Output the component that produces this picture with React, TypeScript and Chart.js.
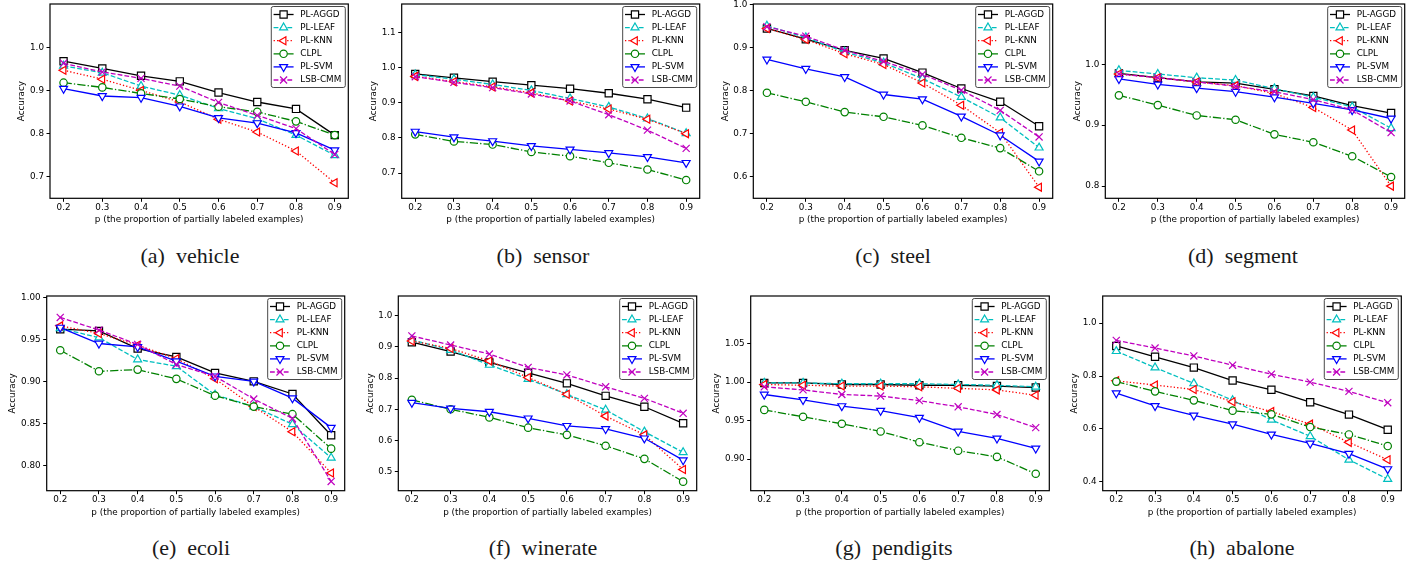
import React, { useEffect, useRef } from 'react';
import { Chart, registerables } from 'chart.js';
import { drawPoint } from 'chart.js/helpers';

Chart.register(...registerables);

// ---------- data ----------
const pValues = [0.2, 0.3, 0.4, 0.5, 0.6, 0.7, 0.8, 0.9];
const methods = ['PL-AGGD', 'PL-LEAF', 'PL-KNN', 'CLPL', 'PL-SVM', 'LSB-CMM'];

// order of rows follows `methods`
const vehicleAcc = [
  [0.968, 0.951, 0.934, 0.921, 0.895, 0.873, 0.857, 0.796],
  [0.957, 0.941, 0.910, 0.889, 0.858, 0.834, 0.796, 0.749],
  [0.947, 0.926, 0.900, 0.873, 0.833, 0.803, 0.759, 0.685],
  [0.918, 0.907, 0.893, 0.880, 0.862, 0.850, 0.828, 0.796],
  [0.904, 0.887, 0.883, 0.863, 0.836, 0.824, 0.801, 0.761],
  [0.963, 0.943, 0.928, 0.910, 0.872, 0.842, 0.811, 0.751],
];
const sensorAcc = [
  [0.982, 0.971, 0.960, 0.950, 0.940, 0.927, 0.910, 0.886],
  [0.980, 0.967, 0.952, 0.935, 0.912, 0.888, 0.855, 0.813],
  [0.975, 0.960, 0.945, 0.928, 0.905, 0.882, 0.853, 0.812],
  [0.810, 0.790, 0.781, 0.760, 0.748, 0.729, 0.710, 0.680],
  [0.818, 0.802, 0.791, 0.777, 0.767, 0.757, 0.746, 0.729],
  [0.974, 0.958, 0.943, 0.925, 0.905, 0.866, 0.822, 0.770],
];
const steelAcc = [
  [0.945, 0.920, 0.894, 0.875, 0.842, 0.805, 0.774, 0.717],
  [0.951, 0.924, 0.890, 0.865, 0.828, 0.785, 0.737, 0.667],
  [0.945, 0.919, 0.886, 0.861, 0.818, 0.766, 0.702, 0.575],
  [0.795, 0.774, 0.750, 0.739, 0.719, 0.690, 0.666, 0.612],
  [0.873, 0.851, 0.832, 0.791, 0.780, 0.740, 0.696, 0.635],
  [0.949, 0.927, 0.894, 0.868, 0.838, 0.801, 0.754, 0.692],
];
const segmentAcc = [
  [0.985, 0.978, 0.971, 0.969, 0.959, 0.948, 0.932, 0.920],
  [0.990, 0.984, 0.978, 0.974, 0.960, 0.946, 0.930, 0.895],
  [0.984, 0.978, 0.971, 0.965, 0.952, 0.929, 0.892, 0.800],
  [0.949, 0.933, 0.916, 0.909, 0.885, 0.872, 0.849, 0.815],
  [0.976, 0.967, 0.961, 0.955, 0.946, 0.936, 0.925, 0.911],
  [0.984, 0.978, 0.971, 0.964, 0.955, 0.942, 0.925, 0.888],
];
const ecoliAcc = [
  [0.962, 0.960, 0.939, 0.929, 0.910, 0.900, 0.885, 0.836],
  [0.963, 0.952, 0.926, 0.918, 0.884, 0.870, 0.849, 0.809],
  [0.966, 0.957, 0.943, 0.927, 0.903, 0.870, 0.840, 0.791],
  [0.937, 0.912, 0.914, 0.903, 0.883, 0.870, 0.861, 0.820],
  [0.964, 0.945, 0.941, 0.924, 0.906, 0.900, 0.880, 0.845],
  [0.976, 0.961, 0.944, 0.920, 0.906, 0.879, 0.856, 0.781],
];
const winerateAcc = [
  [0.915, 0.885, 0.850, 0.817, 0.783, 0.743, 0.708, 0.655],
  [0.922, 0.890, 0.842, 0.797, 0.748, 0.698, 0.628, 0.562],
  [0.919, 0.895, 0.855, 0.802, 0.748, 0.678, 0.618, 0.507],
  [0.730, 0.700, 0.674, 0.641, 0.618, 0.583, 0.541, 0.468],
  [0.721, 0.703, 0.692, 0.671, 0.647, 0.637, 0.607, 0.537],
  [0.935, 0.906, 0.877, 0.834, 0.810, 0.772, 0.735, 0.687],
];
const pendigitsAcc = [
  [0.999, 0.999, 0.997, 0.997, 0.996, 0.996, 0.995, 0.993],
  [0.999, 0.999, 0.998, 0.998, 0.998, 0.997, 0.996, 0.994],
  [0.997, 0.996, 0.995, 0.995, 0.994, 0.992, 0.990, 0.983],
  [0.964, 0.955, 0.946, 0.936, 0.922, 0.911, 0.903, 0.881],
  [0.984, 0.977, 0.969, 0.963, 0.954, 0.936, 0.927, 0.914],
  [0.994, 0.990, 0.984, 0.982, 0.976, 0.968, 0.958, 0.941],
];
const abaloneAcc = [
  [0.914, 0.873, 0.832, 0.783, 0.748, 0.701, 0.654, 0.597],
  [0.894, 0.832, 0.772, 0.708, 0.634, 0.572, 0.483, 0.410],
  [0.782, 0.766, 0.749, 0.703, 0.666, 0.618, 0.549, 0.483],
  [0.779, 0.742, 0.708, 0.669, 0.655, 0.607, 0.579, 0.535],
  [0.735, 0.687, 0.651, 0.618, 0.579, 0.545, 0.506, 0.448],
  [0.935, 0.906, 0.876, 0.841, 0.807, 0.777, 0.742, 0.699],
];

const vehicleTicks = [0.7, 0.8, 0.9, 1.0];
const sensorTicks = [0.7, 0.8, 0.9, 1.0, 1.1];
const steelTicks = [0.6, 0.7, 0.8, 0.9, 1.0];
const segmentTicks = [0.8, 0.9, 1.0];
const ecoliTicks = [0.8, 0.85, 0.9, 0.95, 1.0];
const winerateTicks = [0.5, 0.6, 0.7, 0.8, 0.9, 1.0];
const pendigitsTicks = [0.9, 0.95, 1.0, 1.05];
const abaloneTicks = [0.4, 0.6, 0.8, 1.0];

const xLabel = 'p (the proportion of partially labeled examples)';
const yLabel = 'Accuracy';

// ---------- styles ----------
const FONT = '"DejaVu Sans"';
const FS = 8.8;
const seriesStyles = [
  { color: '#000000', dash: [], style: 'rect', rot: 0, r: 5.1 },
  { color: '#00bfbf', dash: [4.8, 2.1], style: 'triangle', rot: 0, r: 4.6 },
  { color: '#ff0000', dash: [1.3, 2.1], style: 'triangle', rot: 270, r: 4.6 },
  { color: '#008000', dash: [8.3, 2.1, 1.3, 2.1], style: 'circle', rot: 0, r: 3.7 },
  { color: '#0000ff', dash: [], style: 'triangle', rot: 180, r: 4.6 },
  { color: '#bf00bf', dash: [4.8, 2.1], style: 'crossRot', rot: 0, r: 5 },
];

const panels = [
  { cap: '(a)', name: 'vehicle', values: vehicleAcc, ticks: vehicleTicks, dec: 1, yMin: 0.649, yMax: 1.101, box: { l: 50, t: 4, r: 348.3, b: 198.3 }, titleX: 21.7, capX: 190, capY: 255.5 },
  { cap: '(b)', name: 'sensor', values: sensorAcc, ticks: sensorTicks, dec: 1, yMin: 0.628, yMax: 1.181, box: { l: 401.7, t: 4, r: 700, b: 198.3 }, titleX: 373.3, capX: 543, capY: 255.5 },
  { cap: '(c)', name: 'steel', values: steelAcc, ticks: steelTicks, dec: 1, yMin: 0.549, yMax: 1.002, box: { l: 753.3, t: 4, r: 1052.7, b: 198.3 }, titleX: 725, capX: 893, capY: 255.5 },
  { cap: '(d)', name: 'segment', values: segmentAcc, ticks: segmentTicks, dec: 1, yMin: 0.78, yMax: 1.099, box: { l: 1105.3, t: 4, r: 1404.7, b: 198.3 }, titleX: 1077, capX: 1243, capY: 255.5 },
  { cap: '(e)', name: 'ecoli', values: ecoliAcc, ticks: ecoliTicks, dec: 2, yMin: 0.77, yMax: 1.0015, box: { l: 46.7, t: 296, r: 345, b: 490.7 }, titleX: 12.7, capX: 191, capY: 548 },
  { cap: '(f)', name: 'winerate', values: winerateAcc, ticks: winerateTicks, dec: 1, yMin: 0.439, yMax: 1.063, box: { l: 398.3, t: 296, r: 696.7, b: 490.7 }, titleX: 370, capX: 543, capY: 548 },
  { cap: '(g)', name: 'pendigits', values: pendigitsAcc, ticks: pendigitsTicks, dec: 2, yMin: 0.859, yMax: 1.112, box: { l: 750.7, t: 296, r: 1049.3, b: 490.7 }, titleX: 716.7, capX: 894, capY: 548 },
  { cap: '(h)', name: 'abalone', values: abaloneAcc, ticks: abaloneTicks, dec: 1, yMin: 0.366, yMax: 1.103, box: { l: 1102.7, t: 296, r: 1401.3, b: 490.7 }, titleX: 1074.7, capX: 1242, capY: 548 },
];

// frame + matplotlib-like legend
const mplDecor = {
  id: 'mplDecor',
  afterDatasetsDraw(chart: any) {
    const { ctx, chartArea: ca } = chart;
    ctx.save();
    ctx.setLineDash([]);
    ctx.strokeStyle = '#000';
    ctx.lineWidth = 1.2;
    ctx.strokeRect(ca.left, ca.top, ca.right - ca.left, ca.bottom - ca.top);

    ctx.font = `${FS}px ${FONT}`;
    const ds = chart.data.datasets;
    const maxW = Math.max(...ds.map((d: any) => ctx.measureText(d.label).width));
    const w = 29 + maxW + 4;
    const rowH = 13.1;
    const h = 8 + rowH * (ds.length - 1) + 7.5;
    const x0 = ca.right - 3 - w;
    const y0 = ca.top + 2.5;
    ctx.beginPath();
    if (ctx.roundRect) ctx.roundRect(x0, y0, w, h, 2);
    else ctx.rect(x0, y0, w, h);
    ctx.fillStyle = 'rgba(255,255,255,0.85)';
    ctx.fill();
    ctx.strokeStyle = '#333';
    ctx.lineWidth = 0.9;
    ctx.stroke();

    ds.forEach((d: any, i: number) => {
      const y = y0 + 8 + i * rowH;
      ctx.strokeStyle = d.borderColor;
      ctx.lineWidth = 1.3;
      ctx.setLineDash(d.borderDash || []);
      ctx.beginPath();
      ctx.moveTo(x0 + 2.3, y);
      ctx.lineTo(x0 + 22.3, y);
      ctx.stroke();
      ctx.setLineDash([]);
      ctx.fillStyle = '#fff';
      ctx.strokeStyle = d.borderColor;
      ctx.lineWidth = 1.2;
      drawPoint(ctx, { pointStyle: d.pointStyle, rotation: d.pointRotation, radius: d.pointRadius, borderWidth: 1.2 }, x0 + 12.3, y);
      ctx.fillStyle = '#000';
      ctx.textBaseline = 'middle';
      ctx.textAlign = 'left';
      ctx.fillText(d.label, x0 + 29, y);
    });
    ctx.restore();
  },
};

function Panel({ p }: { p: any }) {
  const ref = useRef<HTMLCanvasElement>(null);
  const cx = Math.round(p.titleX - 5.3);
  const ct = Math.round(p.box.t) - 10;
  const W = Math.ceil(p.box.r - cx + 6);
  const H = Math.ceil(p.box.b - ct + 28);

  useEffect(() => {
    const font = { family: FONT, size: FS };
    const datasets = methods.map((m, si) => {
      const s = seriesStyles[si];
      return {
        label: m,
        data: pValues.map((x, i) => ({ x, y: p.values[si][i] })),
        borderColor: s.color,
        backgroundColor: '#fff',
        borderWidth: 1.3,
        borderDash: s.dash,
        pointStyle: s.style,
        pointRotation: s.rot,
        pointRadius: s.r,
        pointHoverRadius: s.r,
        pointBorderWidth: 1.2,
        pointBackgroundColor: '#fff',
        pointBorderColor: s.color,
        tension: 0,
        fill: false,
        order: -si,
        clip: false as any,
      };
    });
    const chart = new Chart(ref.current as HTMLCanvasElement, {
      type: 'line',
      data: { datasets },
      options: {
        animation: false,
        responsive: false,
        devicePixelRatio: 1,
        events: [],
        layout: {
          padding: {
            left: 0,
            top: p.box.t - ct,
            right: W - (p.box.r - cx),
            bottom: H - (p.box.b - ct) - 28,
          },
        },
        plugins: { legend: { display: false }, tooltip: { enabled: false } },
        scales: {
          x: {
            type: 'linear',
            min: 0.165,
            max: 0.935,
            afterBuildTicks: (s: any) => { s.ticks = pValues.map((v) => ({ value: v })); },
            afterFit: (s: any) => { s.height = 28; },
            ticks: { padding: 0.7, autoSkip: false, maxRotation: 0, color: '#000', font, callback: (v: any) => Number(v).toFixed(1) },
            grid: { display: true, drawOnChartArea: false, drawTicks: true, tickLength: 3.5, color: '#000', lineWidth: 1 },
            border: { display: false },
            title: { display: true, text: xLabel, color: '#000', font, padding: { top: 0, bottom: 1 } },
          },
          y: {
            type: 'linear',
            min: p.yMin,
            max: p.yMax,
            afterBuildTicks: (s: any) => { s.ticks = p.ticks.map((v: number) => ({ value: v })); },
            afterFit: (s: any) => { s.width = p.box.l - cx; },
            ticks: { padding: 2.5, autoSkip: false, color: '#000', font, callback: (v: any) => Number(v).toFixed(p.dec) },
            grid: { display: true, drawOnChartArea: false, drawTicks: true, tickLength: 3.5, color: '#000', lineWidth: 1 },
            border: { display: false },
            title: { display: true, text: yLabel, color: '#000', font, padding: { top: 0, bottom: 0 } },
          },
        },
      },
      plugins: [mplDecor],
    } as any);
    return () => chart.destroy();
  }, []);

  return (
    <canvas
      ref={ref}
      width={W}
      height={H}
      style={{ position: 'absolute', left: cx, top: ct, width: W, height: H }}
    />
  );
}

export default function App() {
  return (
    <div style={{ position: 'absolute', left: 0, top: 0, width: 1422, height: 566, background: '#fff', overflow: 'hidden' }}>
      {panels.map((p) => (
        <Panel key={p.name} p={p} />
      ))}
      {panels.map((p) => (
        <div
          key={'cap-' + p.name}
          style={{
            position: 'absolute',
            left: p.capX - 120,
            top: p.capY - 13,
            width: 240,
            height: 26,
            lineHeight: '26px',
            textAlign: 'center',
            fontFamily: '"Liberation Serif", serif',
            fontSize: 22,
            color: '#1a1a1a',
            whiteSpace: 'pre',
          }}
        >
          {p.cap + '\u2002' + p.name}
        </div>
      ))}
    </div>
  );
}
